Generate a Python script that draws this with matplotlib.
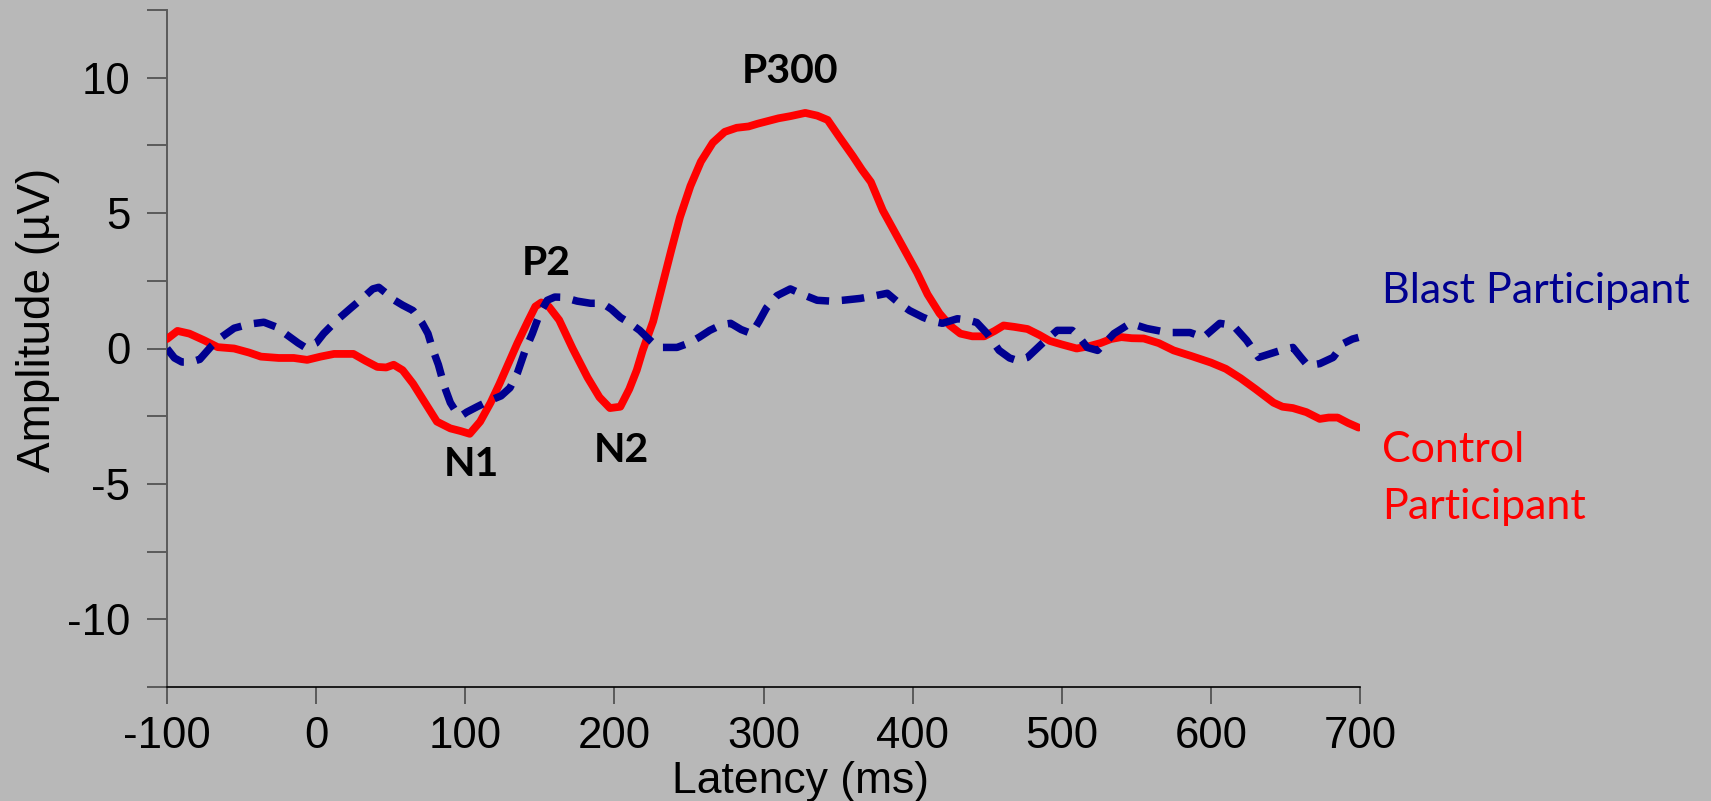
import matplotlib
matplotlib.use("Agg")
import matplotlib.pyplot as plt
from matplotlib.ticker import FixedLocator, FuncFormatter

plt.rcParams['axes.unicode_minus'] = False

# ---- data (latency in ms, amplitude in microvolts) ----
control_x = [-100, -93, -85, -75, -66, -55, -45, -37, -25, -15, -6, 3, 12, 19, 25, 33, 41, 47, 52,
             58, 65, 73, 81, 90, 97, 103, 110, 117, 123, 129, 135, 142, 147, 151, 156, 163, 172,
             182, 190, 197, 204, 210, 215, 219, 226, 232, 238, 244, 251, 258, 266, 274, 282, 290,
             296, 303, 310, 318, 328, 336, 343, 351, 360, 366, 372, 380, 388, 396, 403, 410, 418,
             425, 432, 440, 448, 455, 461, 468, 477, 485, 492, 500, 510, 518, 526, 533, 540, 547,
             555, 565, 575, 587, 600, 610, 620, 630, 642, 648, 655, 664, 673, 679, 685, 692, 699]
control_y = [0.35, 0.65, 0.55, 0.3, 0.05, 0.0, -0.15, -0.3, -0.35, -0.35, -0.42, -0.3, -0.2, -0.2,
             -0.2, -0.45, -0.68, -0.7, -0.6, -0.8, -1.3, -2.0, -2.7, -2.95, -3.05, -3.15, -2.7,
             -2.0, -1.3, -0.55, 0.2, 1.0, 1.55, 1.7, 1.55, 1.05, 0.0, -1.07, -1.8, -2.2, -2.15,
             -1.5, -0.8, -0.07, 1.0, 2.3, 3.6, 4.85, 6.0, 6.9, 7.6, 8.0, 8.15, 8.2, 8.3, 8.4,
             8.5, 8.58, 8.7, 8.6, 8.44, 7.8, 7.1, 6.6, 6.15, 5.1, 4.3, 3.5, 2.8, 2.0, 1.3, 0.85,
             0.55, 0.45, 0.45, 0.65, 0.85, 0.8, 0.72, 0.5, 0.28, 0.15, 0.0, 0.08, 0.2, 0.35,
             0.42, 0.38, 0.37, 0.2, -0.07, -0.28, -0.52, -0.75, -1.1, -1.5, -2.0, -2.15, -2.2,
             -2.35, -2.6, -2.55, -2.55, -2.75, -2.92]

blast_x = [-100, -95, -90, -84, -78, -70, -64, -55, -45, -35, -27, -19, -12, -7, 0, 5, 14, 23, 32,
           38, 42, 47, 52, 58, 65, 71, 75, 78, 82, 86, 90, 94, 97, 101, 108, 116, 124, 130, 135,
           140, 145, 150, 155, 160, 166, 175, 184, 192, 198, 204, 210, 217, 222, 227, 232, 242,
           250, 257, 264, 272, 278, 285, 292, 297, 302, 309, 318, 326, 336, 345, 353, 365, 375,
           383, 391, 398, 407, 414, 420, 430, 437, 443, 450, 458, 465, 470, 477, 487, 497, 507,
           512, 517, 524, 529, 535, 546, 557, 571, 586, 595, 606, 615, 624, 632, 640, 648, 655,
           660, 665, 673, 682, 689, 695, 699]
blast_y = [0.0, -0.35, -0.5, -0.5, -0.4, 0.1, 0.4, 0.75, 0.9, 0.97, 0.8, 0.48, 0.2, 0.03, 0.2,
           0.55, 1.05, 1.48, 1.9, 2.2, 2.26, 2.04, 1.8, 1.6, 1.4, 0.95, 0.55, 0.0, -0.6, -1.4,
           -2.0, -2.35, -2.5, -2.35, -2.15, -1.93, -1.75, -1.45, -0.9, -0.1, 0.55, 1.3, 1.78,
           1.9, 1.89, 1.75, 1.67, 1.67, 1.45, 1.15, 0.95, 0.67, 0.4, 0.15, 0.04, 0.04, 0.2,
           0.42, 0.67, 0.88, 0.93, 0.7, 0.55, 1.0, 1.5, 1.95, 2.2, 2.0, 1.78, 1.75, 1.78, 1.85,
           1.95, 2.04, 1.67, 1.4, 1.15, 1.0, 0.93, 1.1, 1.05, 0.96, 0.55, -0.07, -0.35, -0.44,
           -0.33, 0.19, 0.67, 0.67, 0.4, 0.04, -0.07, 0.2, 0.55, 0.93, 0.74, 0.59, 0.59, 0.41,
           0.93, 0.85, 0.3, -0.33, -0.19, -0.05, 0.04, -0.3, -0.63, -0.56, -0.33, 0.19, 0.35,
           0.41]

x_ticks = [-100, 0, 100, 200, 300, 400, 500, 600, 700]
y_ticks = [-12.5, -10, -7.5, -5, -2.5, 0, 2.5, 5, 7.5, 10, 12.5]

peak_labels = ["N1", "P2", "N2", "P300"]
peak_pos_x = [104, 154, 205, 318]
peak_pos_y = [-4.70, 2.70, -4.19, 9.81]

BG = '#B8B8B8'
RED = '#FF0000'
BLUE = '#000090'

fig = plt.figure(figsize=(17.11, 8.01), dpi=100, facecolor=BG)
ax = fig.add_axes([167 / 1711, 1 - 687 / 801, (1360 - 167) / 1711, (687 - 10) / 801])
ax.set_facecolor(BG)

ax.plot(control_x, control_y, color=RED, lw=5.6, solid_capstyle='round', solid_joinstyle='round', zorder=3)
ax.plot(blast_x, blast_y, color=BLUE, lw=5.4, dashes=(3.0, 1.7), dash_capstyle='butt', zorder=4)

ax.set_xlim(-100, 700)
ax.set_ylim(-12.5, 12.5)

for s in ['top', 'right']:
    ax.spines[s].set_visible(False)
ax.spines['left'].set_color('#5a5a5a')
ax.spines['left'].set_linewidth(1.4)
ax.spines['bottom'].set_color('black')
ax.spines['bottom'].set_linewidth(1.2)

ax.xaxis.set_major_locator(FixedLocator(x_ticks))
ax.yaxis.set_major_locator(FixedLocator(y_ticks))
ax.yaxis.set_major_formatter(FuncFormatter(lambda v, p: f"{int(v)}" if v % 5 == 0 and abs(v) < 12 else ""))
ax.xaxis.set_major_formatter(FuncFormatter(lambda v, p: f"{int(v)}"))

ax.xaxis.set_minor_locator(FixedLocator([700]))
ax.yaxis.set_minor_locator(FixedLocator([12.5]))

ax.tick_params(axis='y', which='major', direction='out', length=14.4, width=1.1, color='#404040',
               labelsize=31.5, pad=12)
ax.tick_params(axis='x', which='major', direction='out', length=12.2, width=1.1, color='#404040',
               labelsize=31.5, pad=9)
ax.tick_params(axis='y', which='minor', direction='in', length=14.4, width=1.1, color='#404040')
ax.tick_params(axis='x', which='minor', direction='in', length=12.2, width=1.1, color='#404040')

for lab in ax.get_xticklabels() + ax.get_yticklabels():
    lab.set_fontfamily('Liberation Sans')

fig.text(801 / 1711, 1 - 793 / 801, "Latency (ms)", fontsize=32, family='Liberation Sans',
         ha='center', va='baseline')
fig.text(50 / 1711, 1 - 319.5 / 801, "Amplitude (\u00b5V)", fontsize=33, family='Liberation Sans',
         ha='center', va='baseline', rotation=90, rotation_mode='anchor')

for lab, px, py in zip(peak_labels, peak_pos_x, peak_pos_y):
    ax.text(px, py, lab, fontsize=29.5, fontweight='bold', family='Lato', ha='center', va='baseline',
            color='black', zorder=5)

ax.text(715, 1.67, "Blast Participant", fontsize=31, family='Lato', color=BLUE, ha='left',
        va='baseline', clip_on=False)
ax.text(715, -4.19, "Control", fontsize=31, family='Lato', color=RED, ha='left',
        va='baseline', clip_on=False)
ax.text(715, -6.30, "Participant", fontsize=31, family='Lato', color=RED, ha='left',
        va='baseline', clip_on=False)

fig.savefig("out.png", dpi=100, facecolor=BG)
